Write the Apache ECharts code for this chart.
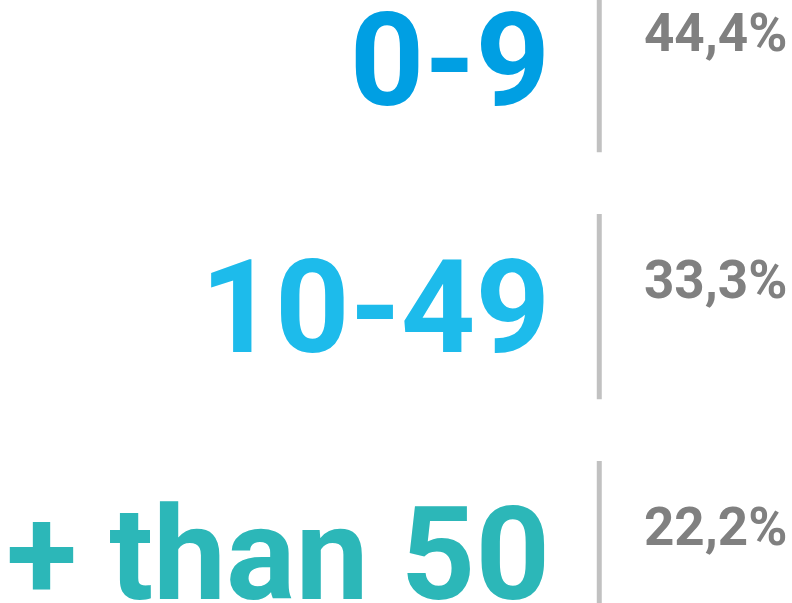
<!DOCTYPE html>
<html>
<head>
<meta charset="utf-8">
<script src="https://cdn.jsdelivr.net/npm/echarts@6/dist/echarts.min.js"></script>
<style>
  html, body { margin: 0; padding: 0; background: #fff; }
  #chart { width: 792px; height: 603px; }
</style>
</head>
<body>
<div id="chart"></div>
<script>
(() => {

    const categories = ['0-9', '10-49', '+ than 50'];
    const shares = [44.4, 33.3, 22.2];
    const colors = ['#009fe3', '#1dbbeb', '#2cb7b8'];

    const fmt = v => v.toFixed(1).replace('.', ',') + '%';

    // rows are 247px apart, first one half cut off at the top
    const chart = echarts.init(document.getElementById('chart'));

    const option = {
        animation: false,
        grid: { left: 0, right: 0, top: -64, height: 741, outerBoundsMode: 'none' },
        xAxis: { type: 'value', min: 0, max: 1, show: false },
        yAxis: { type: 'category', data: categories, inverse: true, show: false },
        series: [{
            type: 'custom',
            clip: false,
            data: categories.map((c, i) => [0, i, shares[i]]),
            renderItem: (params, api) => {
                const i = api.value(1);
                const band = api.size([0, 1])[1];
                const y = api.coord([0, i])[1];
                const labelX = api.coord([0.6945, i])[0];
                const lineX = api.coord([0.7535, i])[0];
                const pctX = api.coord([0.813, i])[0];
                return {
                    type: 'group',
                    children: [
                        {
                            type: 'rect',
                            shape: { x: lineX, y: y - band * 0.375, width: 5, height: band * 0.75 },
                            style: { fill: '#c1c1c1' }
                        },
                        {
                            type: 'text',
                            style: {
                                text: categories[i],
                                x: labelX, y: y + 13,
                                align: 'right', verticalAlign: 'middle',
                                font: 'bold 130px Roboto',
                                fill: colors[i]
                            }
                        },
                        {
                            type: 'text',
                            style: {
                                text: fmt(api.value(2)),
                                x: pctX, y: y - 22,
                                align: 'left', verticalAlign: 'middle',
                                font: 'bold 53px Roboto',
                                fill: '#808080'
                            }
                        }
                    ]
                };
            }
        }]
    };

    chart.setOption(option);
})();
</script>
</body>
</html>
